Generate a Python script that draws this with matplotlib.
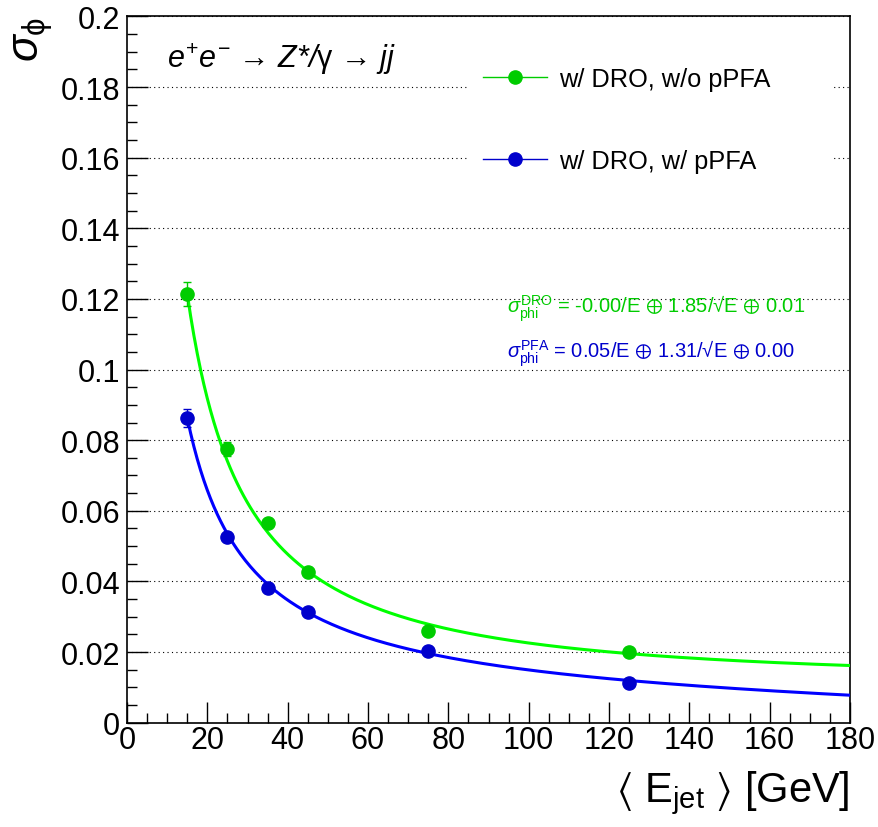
import numpy as np
import matplotlib
matplotlib.use("Agg")
import matplotlib.pyplot as plt
from matplotlib.lines import Line2D
from matplotlib.ticker import MultipleLocator, FuncFormatter

plt.rcParams["font.family"] = ["Liberation Sans", "DejaVu Sans"]
plt.rcParams["mathtext.fontset"] = "custom"
plt.rcParams["mathtext.rm"] = "Liberation Sans"
plt.rcParams["mathtext.it"] = "Liberation Sans:italic"
plt.rcParams["mathtext.bf"] = "Liberation Sans:bold"
plt.rcParams["mathtext.fallback"] = "stix"

# ── data: mean jet energy [GeV] vs phi resolution ───────────────────────────
e_jet = np.array([15, 25, 35, 45, 75, 125], dtype=float)

sigma_dro = np.array([0.1214, 0.0775, 0.0565, 0.0428, 0.0259, 0.0199])
err_dro = np.array([0.0035, 0.0021, 0.0012, 0.0010, 0.0008, 0.0006])

sigma_pfa = np.array([0.0863, 0.0527, 0.0382, 0.0312, 0.0202, 0.0111])
err_pfa = np.array([0.0026, 0.0012, 0.0010, 0.0008, 0.0006, 0.0005])

# resolution fit, sigma^2 = A/E^2 + B/E + C
fit_dro = [3.2, 0.0058, 0.000131]
fit_pfa = [1.488, 0.01342, -0.00006]
fit_range = (15, 180)

labels = ["w/ DRO, w/o pPFA", "w/ DRO, w/ pPFA"]
fit_texts = [
    r"$\sigma^{\mathrm{DRO}}_{\mathrm{phi}}$ = -0.00/E $\oplus$ 1.85/√E $\oplus$ 0.01",
    r"$\sigma^{\mathrm{PFA}}_{\mathrm{phi}}$ = 0.05/E $\oplus$ 1.31/√E $\oplus$ 0.00",
]

GREEN_PT, GREEN_LN = "#00cc00", "#00ff00"
BLUE_PT, BLUE_LN = "#0000cc", "#0000ff"


def eval_resolution(coef, E):
    a, b, c = coef
    return np.sqrt(np.clip(a / E**2 + b / E + c, 0, None))


fig = plt.figure(figsize=(8.79, 8.28), dpi=100)
ax = fig.add_axes([0.1445, 0.126, 0.8225, 0.853])

e_fine = np.linspace(*fit_range, 400)
for s, err, coef, pt, ln in [(sigma_dro, err_dro, fit_dro, GREEN_PT, GREEN_LN),
                             (sigma_pfa, err_pfa, fit_pfa, BLUE_PT, BLUE_LN)]:
    ax.plot(e_fine, eval_resolution(coef, e_fine), color=ln, lw=2.2, zorder=3)
    ax.errorbar(e_jet, s, yerr=err, fmt="o", color=pt, ms=9.5, mec=pt,
                elinewidth=1.0, capsize=3, capthick=1.0, zorder=4)

ax.set_xlim(0, 180)
ax.set_ylim(0, 0.2)

ax.xaxis.set_major_locator(MultipleLocator(20))
ax.xaxis.set_minor_locator(MultipleLocator(5))
ax.yaxis.set_major_locator(MultipleLocator(0.02))
ax.yaxis.set_minor_locator(MultipleLocator(0.005))
ax.yaxis.set_major_formatter(FuncFormatter(lambda v, _: f"{v:.2f}".rstrip("0").rstrip(".") if v else "0"))

ax.tick_params(which="both", direction="in", top=False, right=False,
               labelsize=22, width=1.0, colors="black")
ax.tick_params(which="major", length=15)
ax.tick_params(which="minor", length=7.5)
ax.tick_params(axis="x", pad=2)
ax.tick_params(axis="y", pad=5)
for sp in ax.spines.values():
    sp.set_linewidth(1.2)

ax.grid(axis="y", which="major", color="black", lw=0.8, linestyle=(0, (1, 3)))
ax.set_axisbelow(True)

ax.set_xlabel(r"$\langle$ E$_{\mathrm{jet}}$ $\rangle$ [GeV]", fontsize=30,
              loc="right", labelpad=9)
ax.set_ylabel(r"$\sigma_{\mathrm{\phi}}$", fontsize=32, loc="top", labelpad=4)

ax.text(0.055, 0.928, r"$e^{+}e^{-}$ → $Z$*/$\mathrm{\gamma}$ → $jj$",
        transform=ax.transAxes, fontsize=22, style="italic", va="baseline")

for txt, y, c in zip(fit_texts, [0.581, 0.5173], [GREEN_PT, BLUE_PT]):
    ax.text(0.5256, y, txt, transform=ax.transAxes, fontsize=14.5, color=c,
            va="baseline")

handles = [
    Line2D([], [], color=GREEN_PT, lw=1.0, marker="o", ms=9.5),
    Line2D([], [], color=BLUE_PT, lw=1.0, marker="o", ms=9.5),
]
leg = ax.legend(handles, labels, loc="upper left",
                bbox_to_anchor=(0.4716, 0.3, 0.5048, 0.65), mode="expand",
                fontsize=18.3, frameon=True, fancybox=False, framealpha=1,
                edgecolor="none", facecolor="white", borderpad=0.6,
                labelspacing=2.27, handlelength=2.5, handletextpad=0.47,
                borderaxespad=0)
leg.set_zorder(5)

fig.savefig("out.png", dpi=100)
